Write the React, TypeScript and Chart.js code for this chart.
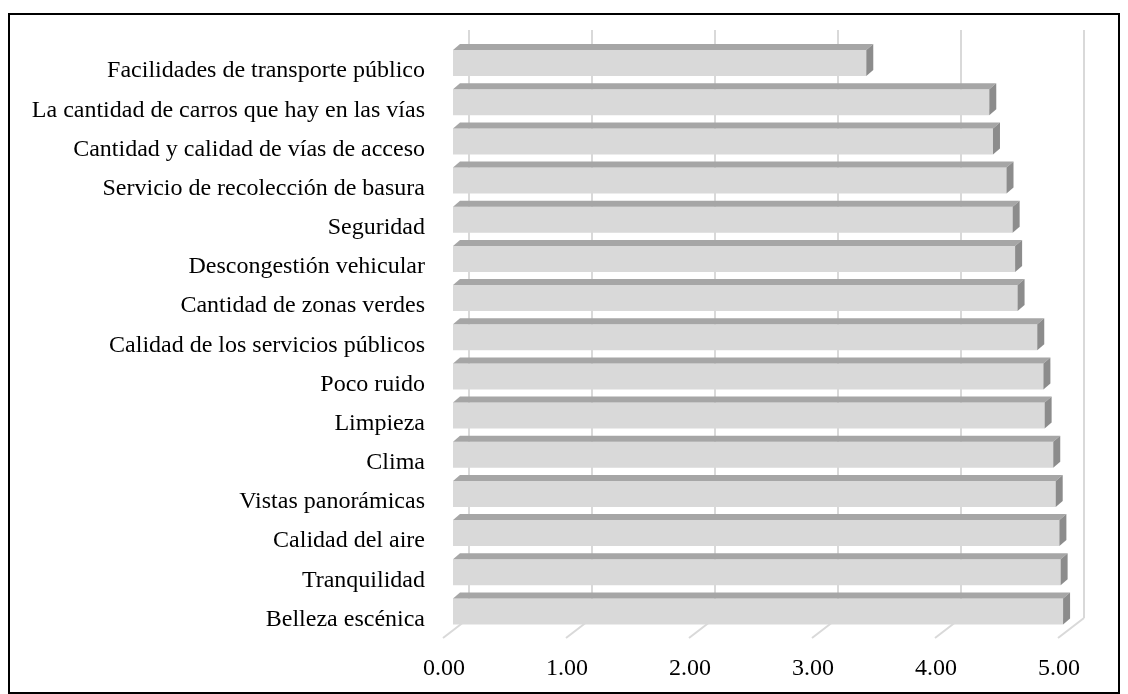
import React, { useEffect, useRef } from "react";
import { Chart, registerables } from "chart.js";

Chart.register(...registerables);

const categories: string[] = [
  "Facilidades de transporte público",
  "La cantidad de carros que hay en las vías",
  "Cantidad y calidad de vías de acceso",
  "Servicio de recolección de basura",
  "Seguridad",
  "Descongestión vehicular",
  "Cantidad de zonas verdes",
  "Calidad de los servicios públicos",
  "Poco ruido",
  "Limpieza",
  "Clima",
  "Vistas panorámicas",
  "Calidad del aire",
  "Tranquilidad",
  "Belleza escénica",
];

const values: number[] = [
  3.36, 4.36, 4.39, 4.5, 4.55, 4.57, 4.59, 4.75, 4.8, 4.81, 4.88, 4.9, 4.93, 4.94, 4.96,
];

const xTicks: number[] = [0, 1, 2, 3, 4, 5];

const FONT = "'Liberation Serif', 'Times New Roman', serif";

const threeD = {
  id: "threeD",
  beforeDatasetsDraw(chart: any) {
    const ctx = chart.ctx;
    const xs = chart.scales.x;
    const area = chart.chartArea;
    const floorFront = area.bottom + 7;
    const floorBack = floorFront - 20;
    ctx.save();
    ctx.strokeStyle = "#d9d9d9";
    ctx.lineWidth = 2;
    xTicks.forEach((t) => {
      const px = xs.getPixelForValue(t);
      ctx.beginPath();
      ctx.moveTo(px + 16, 30);
      ctx.lineTo(px + 16, floorBack);
      ctx.stroke();
      ctx.beginPath();
      ctx.moveTo(px - 10, floorFront);
      ctx.lineTo(px + 16, floorBack);
      ctx.stroke();
    });
    ctx.restore();
  },
  afterDatasetsDraw(chart: any) {
    const ctx = chart.ctx;
    const meta = chart.getDatasetMeta(0);
    const dx = 7;
    const dy = 6;
    ctx.save();
    meta.data.forEach((bar: any) => {
      const top = bar.y - bar.height / 2;
      const bottom = bar.y + bar.height / 2;
      const left = bar.base;
      const right = bar.x;
      ctx.fillStyle = "#a6a6a6";
      ctx.beginPath();
      ctx.moveTo(left, top);
      ctx.lineTo(left + dx, top - dy);
      ctx.lineTo(right + dx, top - dy);
      ctx.lineTo(right, top);
      ctx.closePath();
      ctx.fill();
      ctx.fillStyle = "#8c8c8c";
      ctx.beginPath();
      ctx.moveTo(right, top);
      ctx.lineTo(right + dx, top - dy);
      ctx.lineTo(right + dx, bottom - dy);
      ctx.lineTo(right, bottom);
      ctx.closePath();
      ctx.fill();
    });
    ctx.restore();
  },
};

export default function App() {
  const canvasRef = useRef<HTMLCanvasElement | null>(null);

  useEffect(() => {
    if (!canvasRef.current) return;
    const chart = new Chart(canvasRef.current, {
      type: "bar",
      data: {
        labels: categories,
        datasets: [
          {
            data: values,
            backgroundColor: "#d9d9d9",
            borderWidth: 0,
            barPercentage: 0.663,
            categoryPercentage: 1,
          },
        ],
      },
      options: {
        indexAxis: "y",
        animation: false,
        responsive: false,
        maintainAspectRatio: false,
        layout: { padding: { top: 43.5, right: 60, bottom: 0, left: 0 } },
        plugins: {
          legend: { display: false },
          tooltip: { enabled: false },
        },
        scales: {
          x: {
            min: 0,
            max: 5,
            afterBuildTicks: (scale: any) => {
              scale.ticks = xTicks.map((v) => ({ value: v }));
            },
            afterFit: (scale: any) => {
              scale.height = 63;
            },
            grid: { display: false, drawTicks: false },
            border: { display: false },
            ticks: {
              padding: 23,
              labelOffset: -9,
              color: "#000",
              font: { family: FONT, size: 24 },
              callback: (v: any) => Number(v).toFixed(2),
            },
          },
          y: {
            afterFit: (scale: any) => {
              scale.width = 453;
            },
            grid: { display: false, drawTicks: false },
            border: { display: false },
            ticks: {
              padding: 28,
              labelOffset: 8,
              color: "#000",
              font: { family: FONT, size: 24 },
            },
          },
        },
      },
      plugins: [threeD],
    });
    return () => chart.destroy();
  }, []);

  return (
    <div style={{ position: "fixed", left: 0, top: 0, width: 1128, height: 694, background: "#fff" }}>
      <canvas
        ref={canvasRef}
        width={1128}
        height={694}
        style={{ position: "absolute", left: 0, top: 0, width: 1128, height: 694 }}
      />
      <div
        style={{
          position: "absolute",
          left: 8,
          top: 13,
          width: 1112,
          height: 681,
          boxSizing: "border-box",
          border: "2px solid #000",
          pointerEvents: "none",
        }}
      />
    </div>
  );
}
